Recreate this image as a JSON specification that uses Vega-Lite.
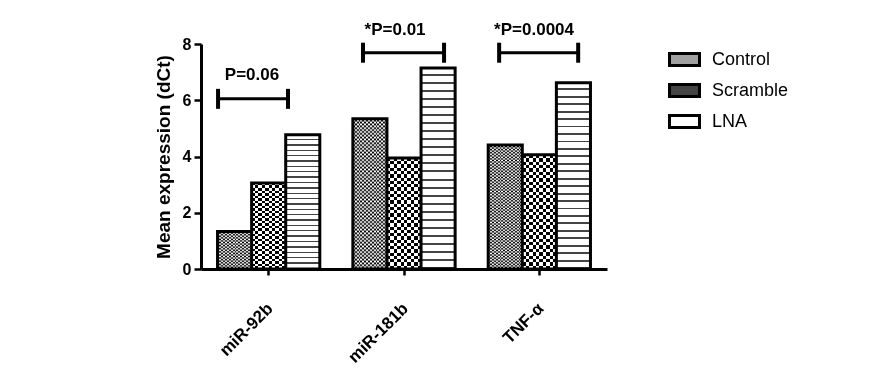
{
  "$schema": "https://vega.github.io/schema/vega-lite/v6.json",
  "width": 406,
  "height": 225,
  "autosize": {"type": "none"},
  "padding": {"left": 201, "top": 44, "right": 279, "bottom": 100},
  "background": "white",
  "config": {"view": {"stroke": null}, "font": "Liberation Sans"},
  "datasets": {
    "bars": [
      {"gene": "miR-92b", "group": "Control", "value": 1.33},
      {"gene": "miR-92b", "group": "Scramble", "value": 3.06},
      {"gene": "miR-92b", "group": "LNA", "value": 4.77},
      {"gene": "miR-181b", "group": "Control", "value": 5.34},
      {"gene": "miR-181b", "group": "Scramble", "value": 3.95},
      {"gene": "miR-181b", "group": "LNA", "value": 7.15},
      {"gene": "TNF-α", "group": "Control", "value": 4.41},
      {"gene": "TNF-α", "group": "Scramble", "value": 4.06},
      {"gene": "TNF-α", "group": "LNA", "value": 6.62}
    ],
    "brackets": [
      {"label": "P=0.06", "xa": 0.126, "xb": 0.643, "y": 6.05, "tx": 0.377, "ty": 6.73},
      {"label": "*P=0.01", "xa": 1.197, "xb": 1.796, "y": 7.69, "tx": 1.434, "ty": 8.33},
      {"label": "*P=0.0004", "xa": 2.203, "xb": 2.787, "y": 7.69, "tx": 2.461, "ty": 8.33}
    ]
  },
  "layer": [
    {
      "data": {"name": "bars"},
      "encoding": {
        "x": {
          "field": "gene", "type": "nominal",
          "sort": ["miR-92b", "miR-181b", "TNF-α"],
          "scale": {"paddingInner": 0, "paddingOuter": 0},
          "axis": {
            "title": null, "labelAngle": -45, "labelFontSize": 17, "labelFontWeight": "bold",
            "labelColor": "black", "labelPadding": 25, "labelOffset": -4, "tickColor": "black", "tickWidth": 2.5,
            "tickSize": 6, "domainColor": "black", "domainWidth": 3
          }
        },
        "xOffset": {
          "field": "group", "type": "nominal",
          "sort": ["Control", "Scramble", "LNA"],
          "scale": {"paddingInner": 0, "paddingOuter": 0.485}
        },
        "y": {
          "field": "value", "type": "quantitative",
          "scale": {"domain": [0, 8], "nice": false},
          "axis": {
            "title": "Mean expression (dCt)", "titleFontSize": 19, "titleFontWeight": "bold",
            "titleColor": "black", "titlePadding": 9, "values": [0, 2, 4, 6, 8],
            "labelFontSize": 16, "labelFontWeight": "bold", "labelColor": "black", "labelPadding": 3,
            "tickColor": "black", "tickWidth": 2.5, "tickSize": 7, "domainColor": "black",
            "domainWidth": 3, "grid": false
          }
        }
      },
      "layer": [
        {
          "mark": {"type": "bar", "stroke": "black", "strokeWidth": 3},
          "encoding": {
            "fill": {
              "condition": [
                {
                  "test": "datum.group === 'Control'",
                  "value": {
                    "gradient": "linear", "x1": 0, "y1": 0, "x2": 1, "y2": 0,
                    "stops": [
                      {"offset": 0, "color": "#ffffff"}, {"offset": 0.0556, "color": "#ffffff"}, {"offset": 0.0556, "color": "#000000"}, {"offset": 0.1111, "color": "#000000"},
                      {"offset": 0.1111, "color": "#ffffff"}, {"offset": 0.1667, "color": "#ffffff"}, {"offset": 0.1667, "color": "#000000"}, {"offset": 0.2222, "color": "#000000"},
                      {"offset": 0.2222, "color": "#ffffff"}, {"offset": 0.2778, "color": "#ffffff"}, {"offset": 0.2778, "color": "#000000"}, {"offset": 0.3333, "color": "#000000"},
                      {"offset": 0.3333, "color": "#ffffff"}, {"offset": 0.3889, "color": "#ffffff"}, {"offset": 0.3889, "color": "#000000"}, {"offset": 0.4444, "color": "#000000"},
                      {"offset": 0.4444, "color": "#ffffff"}, {"offset": 0.5, "color": "#ffffff"}, {"offset": 0.5, "color": "#000000"}, {"offset": 0.5556, "color": "#000000"},
                      {"offset": 0.5556, "color": "#ffffff"}, {"offset": 0.6111, "color": "#ffffff"}, {"offset": 0.6111, "color": "#000000"}, {"offset": 0.6667, "color": "#000000"},
                      {"offset": 0.6667, "color": "#ffffff"}, {"offset": 0.7222, "color": "#ffffff"}, {"offset": 0.7222, "color": "#000000"}, {"offset": 0.7778, "color": "#000000"},
                      {"offset": 0.7778, "color": "#ffffff"}, {"offset": 0.8333, "color": "#ffffff"}, {"offset": 0.8333, "color": "#000000"}, {"offset": 0.8889, "color": "#000000"},
                      {"offset": 0.8889, "color": "#ffffff"}, {"offset": 0.9444, "color": "#ffffff"}, {"offset": 0.9444, "color": "#000000"}, {"offset": 1, "color": "#000000"}
                    ]
                  }
                },
                {
                  "test": "datum.group === 'Scramble'",
                  "value": {
                    "gradient": "linear", "x1": 0, "y1": 0, "x2": 1, "y2": 0,
                    "stops": [
                      {"offset": 0, "color": "#ffffff"}, {"offset": 0.1, "color": "#ffffff"}, {"offset": 0.1, "color": "#000000"}, {"offset": 0.2, "color": "#000000"},
                      {"offset": 0.2, "color": "#ffffff"}, {"offset": 0.3, "color": "#ffffff"}, {"offset": 0.3, "color": "#000000"}, {"offset": 0.4, "color": "#000000"},
                      {"offset": 0.4, "color": "#ffffff"}, {"offset": 0.5, "color": "#ffffff"}, {"offset": 0.5, "color": "#000000"}, {"offset": 0.6, "color": "#000000"},
                      {"offset": 0.6, "color": "#ffffff"}, {"offset": 0.7, "color": "#ffffff"}, {"offset": 0.7, "color": "#000000"}, {"offset": 0.8, "color": "#000000"},
                      {"offset": 0.8, "color": "#ffffff"}, {"offset": 0.9, "color": "#ffffff"}, {"offset": 0.9, "color": "#000000"}, {"offset": 1, "color": "#000000"}
                    ]
                  }
                },
                {
                  "test": "datum.group === 'LNA'",
                  "value": {
                    "gradient": "linear", "x1": 0, "y1": 0, "x2": 0, "y2": 1,
                    "stops": [
                      {"offset": 0, "color": "#ffffff"}, {"offset": 0.03, "color": "#ffffff"}, {"offset": 0.03, "color": "#444444"}, {"offset": 0.04, "color": "#444444"},
                      {"offset": 0.04, "color": "#ffffff"}, {"offset": 0.07, "color": "#ffffff"}, {"offset": 0.07, "color": "#444444"}, {"offset": 0.08, "color": "#444444"},
                      {"offset": 0.08, "color": "#ffffff"}, {"offset": 0.11, "color": "#ffffff"}, {"offset": 0.11, "color": "#444444"}, {"offset": 0.12, "color": "#444444"},
                      {"offset": 0.12, "color": "#ffffff"}, {"offset": 0.15, "color": "#ffffff"}, {"offset": 0.15, "color": "#444444"}, {"offset": 0.16, "color": "#444444"},
                      {"offset": 0.16, "color": "#ffffff"}, {"offset": 0.19, "color": "#ffffff"}, {"offset": 0.19, "color": "#444444"}, {"offset": 0.20, "color": "#444444"},
                      {"offset": 0.20, "color": "#ffffff"}, {"offset": 0.23, "color": "#ffffff"}, {"offset": 0.23, "color": "#444444"}, {"offset": 0.24, "color": "#444444"},
                      {"offset": 0.24, "color": "#ffffff"}, {"offset": 0.27, "color": "#ffffff"}, {"offset": 0.27, "color": "#444444"}, {"offset": 0.28, "color": "#444444"},
                      {"offset": 0.28, "color": "#ffffff"}, {"offset": 0.31, "color": "#ffffff"}, {"offset": 0.31, "color": "#444444"}, {"offset": 0.32, "color": "#444444"},
                      {"offset": 0.32, "color": "#ffffff"}, {"offset": 0.35, "color": "#ffffff"}, {"offset": 0.35, "color": "#444444"}, {"offset": 0.36, "color": "#444444"},
                      {"offset": 0.36, "color": "#ffffff"}, {"offset": 0.39, "color": "#ffffff"}, {"offset": 0.39, "color": "#444444"}, {"offset": 0.40, "color": "#444444"},
                      {"offset": 0.40, "color": "#ffffff"}, {"offset": 0.43, "color": "#ffffff"}, {"offset": 0.43, "color": "#444444"}, {"offset": 0.44, "color": "#444444"},
                      {"offset": 0.44, "color": "#ffffff"}, {"offset": 0.47, "color": "#ffffff"}, {"offset": 0.47, "color": "#444444"}, {"offset": 0.48, "color": "#444444"},
                      {"offset": 0.48, "color": "#ffffff"}, {"offset": 0.51, "color": "#ffffff"}, {"offset": 0.51, "color": "#444444"}, {"offset": 0.52, "color": "#444444"},
                      {"offset": 0.52, "color": "#ffffff"}, {"offset": 0.55, "color": "#ffffff"}, {"offset": 0.55, "color": "#444444"}, {"offset": 0.56, "color": "#444444"},
                      {"offset": 0.56, "color": "#ffffff"}, {"offset": 0.59, "color": "#ffffff"}, {"offset": 0.59, "color": "#444444"}, {"offset": 0.60, "color": "#444444"},
                      {"offset": 0.60, "color": "#ffffff"}, {"offset": 0.63, "color": "#ffffff"}, {"offset": 0.63, "color": "#444444"}, {"offset": 0.64, "color": "#444444"},
                      {"offset": 0.64, "color": "#ffffff"}, {"offset": 0.67, "color": "#ffffff"}, {"offset": 0.67, "color": "#444444"}, {"offset": 0.68, "color": "#444444"},
                      {"offset": 0.68, "color": "#ffffff"}, {"offset": 0.71, "color": "#ffffff"}, {"offset": 0.71, "color": "#444444"}, {"offset": 0.72, "color": "#444444"},
                      {"offset": 0.72, "color": "#ffffff"}, {"offset": 0.75, "color": "#ffffff"}, {"offset": 0.75, "color": "#444444"}, {"offset": 0.76, "color": "#444444"},
                      {"offset": 0.76, "color": "#ffffff"}, {"offset": 0.79, "color": "#ffffff"}, {"offset": 0.79, "color": "#444444"}, {"offset": 0.80, "color": "#444444"},
                      {"offset": 0.80, "color": "#ffffff"}, {"offset": 0.83, "color": "#ffffff"}, {"offset": 0.83, "color": "#444444"}, {"offset": 0.84, "color": "#444444"},
                      {"offset": 0.84, "color": "#ffffff"}, {"offset": 0.87, "color": "#ffffff"}, {"offset": 0.87, "color": "#444444"}, {"offset": 0.88, "color": "#444444"},
                      {"offset": 0.88, "color": "#ffffff"}, {"offset": 0.91, "color": "#ffffff"}, {"offset": 0.91, "color": "#444444"}, {"offset": 0.92, "color": "#444444"},
                      {"offset": 0.92, "color": "#ffffff"}, {"offset": 0.95, "color": "#ffffff"}, {"offset": 0.95, "color": "#444444"}, {"offset": 0.96, "color": "#444444"},
                      {"offset": 0.96, "color": "#ffffff"}, {"offset": 0.99, "color": "#ffffff"}, {"offset": 0.99, "color": "#444444"}, {"offset": 1, "color": "#444444"}
                    ]
                  }
                }
              ],
              "field": "group", "type": "nominal",
              "scale": {"domain": ["Control", "Scramble", "LNA"], "range": ["#a0a0a0", "#444444", "#ffffff"]},
              "legend": {
                "title": null, "orient": "none", "legendX": 467, "legendY": -1, "padding": 0,
                "symbolType": "M-1,-0.4H1V0.4H-1Z", "symbolSize": 900,
                "symbolStrokeColor": "black", "symbolStrokeWidth": 3,
                "labelFontSize": 18, "labelColor": "black", "labelOffset": 11, "rowPadding": 2
              }
            }
          }
        },
        {
          "mark": {"type": "bar", "stroke": "black", "strokeWidth": 3, "blend": "difference"},
          "encoding": {
            "fill": {
              "condition": [
                {
                  "test": "datum.group === 'Control' && datum.gene === 'miR-92b'",
                  "value": {
                    "gradient": "linear", "x1": 0, "y1": 0, "x2": 0, "y2": 1,
                    "stops": [
                      {"offset": 0, "color": "#ffffff"}, {"offset": 0.0417, "color": "#000000"}, {"offset": 0.0833, "color": "#ffffff"}, {"offset": 0.125, "color": "#000000"},
                      {"offset": 0.1667, "color": "#ffffff"}, {"offset": 0.2083, "color": "#000000"}, {"offset": 0.25, "color": "#ffffff"}, {"offset": 0.2917, "color": "#000000"},
                      {"offset": 0.3333, "color": "#ffffff"}, {"offset": 0.375, "color": "#000000"}, {"offset": 0.4167, "color": "#ffffff"}, {"offset": 0.4583, "color": "#000000"},
                      {"offset": 0.5, "color": "#ffffff"}, {"offset": 0.5417, "color": "#000000"}, {"offset": 0.5833, "color": "#ffffff"}, {"offset": 0.625, "color": "#000000"},
                      {"offset": 0.6667, "color": "#ffffff"}, {"offset": 0.7083, "color": "#000000"}, {"offset": 0.75, "color": "#ffffff"}, {"offset": 0.7917, "color": "#000000"},
                      {"offset": 0.8333, "color": "#ffffff"}, {"offset": 0.875, "color": "#000000"}, {"offset": 0.9167, "color": "#ffffff"}, {"offset": 0.9583, "color": "#000000"},
                      {"offset": 1, "color": "#ffffff"}
                    ]
                  }
                },
                {
                  "test": "datum.group === 'Control'",
                  "value": {
                    "gradient": "linear", "x1": 0, "y1": 0, "x2": 0, "y2": 1,
                    "stops": [
                      {"offset": 0, "color": "#ffffff"}, {"offset": 0.0125, "color": "#000000"}, {"offset": 0.025, "color": "#ffffff"}, {"offset": 0.0375, "color": "#000000"},
                      {"offset": 0.05, "color": "#ffffff"}, {"offset": 0.0625, "color": "#000000"}, {"offset": 0.075, "color": "#ffffff"}, {"offset": 0.0875, "color": "#000000"},
                      {"offset": 0.1, "color": "#ffffff"}, {"offset": 0.1125, "color": "#000000"}, {"offset": 0.125, "color": "#ffffff"}, {"offset": 0.1375, "color": "#000000"},
                      {"offset": 0.15, "color": "#ffffff"}, {"offset": 0.1625, "color": "#000000"}, {"offset": 0.175, "color": "#ffffff"}, {"offset": 0.1875, "color": "#000000"},
                      {"offset": 0.2, "color": "#ffffff"}, {"offset": 0.2125, "color": "#000000"}, {"offset": 0.225, "color": "#ffffff"}, {"offset": 0.2375, "color": "#000000"},
                      {"offset": 0.25, "color": "#ffffff"}, {"offset": 0.2625, "color": "#000000"}, {"offset": 0.275, "color": "#ffffff"}, {"offset": 0.2875, "color": "#000000"},
                      {"offset": 0.3, "color": "#ffffff"}, {"offset": 0.3125, "color": "#000000"}, {"offset": 0.325, "color": "#ffffff"}, {"offset": 0.3375, "color": "#000000"},
                      {"offset": 0.35, "color": "#ffffff"}, {"offset": 0.3625, "color": "#000000"}, {"offset": 0.375, "color": "#ffffff"}, {"offset": 0.3875, "color": "#000000"},
                      {"offset": 0.4, "color": "#ffffff"}, {"offset": 0.4125, "color": "#000000"}, {"offset": 0.425, "color": "#ffffff"}, {"offset": 0.4375, "color": "#000000"},
                      {"offset": 0.45, "color": "#ffffff"}, {"offset": 0.4625, "color": "#000000"}, {"offset": 0.475, "color": "#ffffff"}, {"offset": 0.4875, "color": "#000000"},
                      {"offset": 0.5, "color": "#ffffff"}, {"offset": 0.5125, "color": "#000000"}, {"offset": 0.525, "color": "#ffffff"}, {"offset": 0.5375, "color": "#000000"},
                      {"offset": 0.55, "color": "#ffffff"}, {"offset": 0.5625, "color": "#000000"}, {"offset": 0.575, "color": "#ffffff"}, {"offset": 0.5875, "color": "#000000"},
                      {"offset": 0.6, "color": "#ffffff"}, {"offset": 0.6125, "color": "#000000"}, {"offset": 0.625, "color": "#ffffff"}, {"offset": 0.6375, "color": "#000000"},
                      {"offset": 0.65, "color": "#ffffff"}, {"offset": 0.6625, "color": "#000000"}, {"offset": 0.675, "color": "#ffffff"}, {"offset": 0.6875, "color": "#000000"},
                      {"offset": 0.7, "color": "#ffffff"}, {"offset": 0.7125, "color": "#000000"}, {"offset": 0.725, "color": "#ffffff"}, {"offset": 0.7375, "color": "#000000"},
                      {"offset": 0.75, "color": "#ffffff"}, {"offset": 0.7625, "color": "#000000"}, {"offset": 0.775, "color": "#ffffff"}, {"offset": 0.7875, "color": "#000000"},
                      {"offset": 0.8, "color": "#ffffff"}, {"offset": 0.8125, "color": "#000000"}, {"offset": 0.825, "color": "#ffffff"}, {"offset": 0.8375, "color": "#000000"},
                      {"offset": 0.85, "color": "#ffffff"}, {"offset": 0.8625, "color": "#000000"}, {"offset": 0.875, "color": "#ffffff"}, {"offset": 0.8875, "color": "#000000"},
                      {"offset": 0.9, "color": "#ffffff"}, {"offset": 0.9125, "color": "#000000"}, {"offset": 0.925, "color": "#ffffff"}, {"offset": 0.9375, "color": "#000000"},
                      {"offset": 0.95, "color": "#ffffff"}, {"offset": 0.9625, "color": "#000000"}, {"offset": 0.975, "color": "#ffffff"}, {"offset": 0.9875, "color": "#000000"},
                      {"offset": 1, "color": "#ffffff"}
                    ]
                  }
                },
                {
                  "test": "datum.group === 'Scramble'",
                  "value": {
                    "gradient": "linear", "x1": 0, "y1": 0, "x2": 0, "y2": 1,
                    "stops": [
                      {"offset": 0, "color": "#ffffff"}, {"offset": 0.0294, "color": "#ffffff"}, {"offset": 0.0294, "color": "#000000"}, {"offset": 0.0588, "color": "#000000"},
                      {"offset": 0.0588, "color": "#ffffff"}, {"offset": 0.0882, "color": "#ffffff"}, {"offset": 0.0882, "color": "#000000"}, {"offset": 0.1176, "color": "#000000"},
                      {"offset": 0.1176, "color": "#ffffff"}, {"offset": 0.1471, "color": "#ffffff"}, {"offset": 0.1471, "color": "#000000"}, {"offset": 0.1765, "color": "#000000"},
                      {"offset": 0.1765, "color": "#ffffff"}, {"offset": 0.2059, "color": "#ffffff"}, {"offset": 0.2059, "color": "#000000"}, {"offset": 0.2353, "color": "#000000"},
                      {"offset": 0.2353, "color": "#ffffff"}, {"offset": 0.2647, "color": "#ffffff"}, {"offset": 0.2647, "color": "#000000"}, {"offset": 0.2941, "color": "#000000"},
                      {"offset": 0.2941, "color": "#ffffff"}, {"offset": 0.3235, "color": "#ffffff"}, {"offset": 0.3235, "color": "#000000"}, {"offset": 0.3529, "color": "#000000"},
                      {"offset": 0.3529, "color": "#ffffff"}, {"offset": 0.3824, "color": "#ffffff"}, {"offset": 0.3824, "color": "#000000"}, {"offset": 0.4118, "color": "#000000"},
                      {"offset": 0.4118, "color": "#ffffff"}, {"offset": 0.4412, "color": "#ffffff"}, {"offset": 0.4412, "color": "#000000"}, {"offset": 0.4706, "color": "#000000"},
                      {"offset": 0.4706, "color": "#ffffff"}, {"offset": 0.5, "color": "#ffffff"}, {"offset": 0.5, "color": "#000000"}, {"offset": 0.5294, "color": "#000000"},
                      {"offset": 0.5294, "color": "#ffffff"}, {"offset": 0.5588, "color": "#ffffff"}, {"offset": 0.5588, "color": "#000000"}, {"offset": 0.5882, "color": "#000000"},
                      {"offset": 0.5882, "color": "#ffffff"}, {"offset": 0.6176, "color": "#ffffff"}, {"offset": 0.6176, "color": "#000000"}, {"offset": 0.6471, "color": "#000000"},
                      {"offset": 0.6471, "color": "#ffffff"}, {"offset": 0.6765, "color": "#ffffff"}, {"offset": 0.6765, "color": "#000000"}, {"offset": 0.7059, "color": "#000000"},
                      {"offset": 0.7059, "color": "#ffffff"}, {"offset": 0.7353, "color": "#ffffff"}, {"offset": 0.7353, "color": "#000000"}, {"offset": 0.7647, "color": "#000000"},
                      {"offset": 0.7647, "color": "#ffffff"}, {"offset": 0.7941, "color": "#ffffff"}, {"offset": 0.7941, "color": "#000000"}, {"offset": 0.8235, "color": "#000000"},
                      {"offset": 0.8235, "color": "#ffffff"}, {"offset": 0.8529, "color": "#ffffff"}, {"offset": 0.8529, "color": "#000000"}, {"offset": 0.8824, "color": "#000000"},
                      {"offset": 0.8824, "color": "#ffffff"}, {"offset": 0.9118, "color": "#ffffff"}, {"offset": 0.9118, "color": "#000000"}, {"offset": 0.9412, "color": "#000000"},
                      {"offset": 0.9412, "color": "#ffffff"}, {"offset": 0.9706, "color": "#ffffff"}, {"offset": 0.9706, "color": "#000000"}, {"offset": 1, "color": "#000000"}
                    ]
                  }
                }
              ],
              "value": "#000000"
            }
          }
        }
      ]
    },
    {
      "data": {"name": "brackets"},
      "encoding": {
        "x": {"field": "xa", "type": "quantitative", "scale": {"domain": [0, 3]}, "axis": null},
        "y": {"field": "y", "type": "quantitative", "scale": {"domain": [0, 8], "nice": false}}
      },
      "layer": [
        {
          "mark": {"type": "rule", "strokeWidth": 3, "color": "black"},
          "encoding": {"x2": {"field": "xb"}}
        },
        {
          "mark": {"type": "tick", "orient": "vertical", "size": 20, "thickness": 4, "color": "black", "opacity": 1},
          "encoding": {}
        },
        {
          "mark": {"type": "tick", "orient": "vertical", "size": 20, "thickness": 4, "color": "black", "opacity": 1},
          "encoding": {"x": {"field": "xb", "type": "quantitative", "axis": null}}
        },
        {
          "mark": {"type": "text", "fontSize": 17, "fontWeight": "bold", "color": "black", "baseline": "alphabetic", "align": "center"},
          "encoding": {
            "x": {"field": "tx", "type": "quantitative", "axis": null},
            "y": {"field": "ty", "type": "quantitative"},
            "text": {"field": "label"}
          }
        }
      ]
    }
  ],
  "resolve": {"scale": {"x": "independent"}}
}
